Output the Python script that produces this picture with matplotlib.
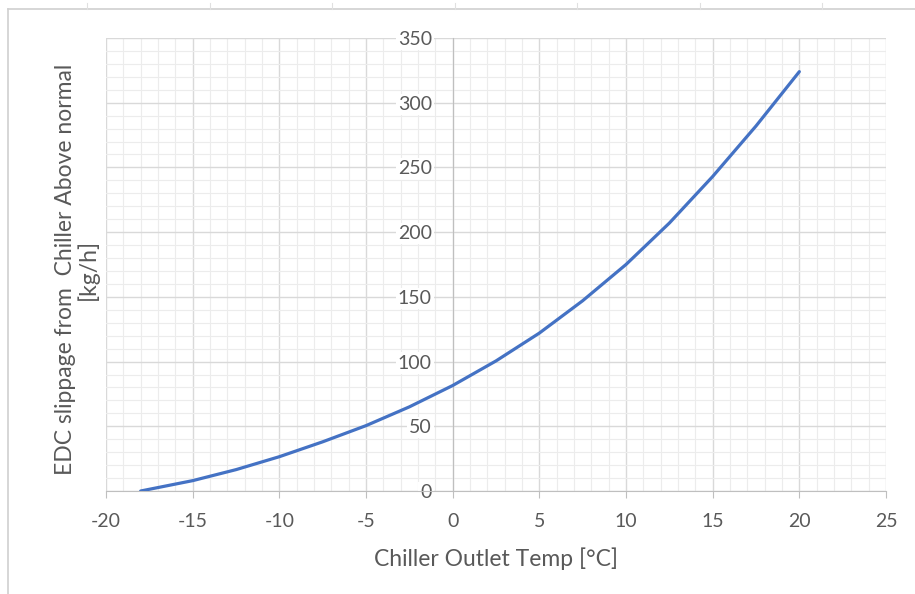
import numpy as np
import matplotlib.pyplot as plt
from matplotlib.lines import Line2D
from matplotlib.ticker import MultipleLocator

# Values
temp = [-18, -15, -12.5, -10, -7.5, -5, -2.5, 0, 2.5, 5, 7.5, 10, 12.5, 15, 17.5, 20]
slippage = [0, 8, 16.5, 26.5, 38, 50.5, 65, 81.5, 100.5, 122, 147, 175, 207, 243, 282, 324]

x_ticks = [-20, -15, -10, -5, 0, 5, 10, 15, 20, 25]
y_ticks = [0, 50, 100, 150, 200, 250, 300, 350]

plt.rcParams['font.family'] = ['Lato', 'DejaVu Sans']
plt.rcParams['axes.unicode_minus'] = False
text_col = '#595959'

fig = plt.figure(figsize=(9.15, 5.94), dpi=100)
ax = fig.add_axes([106 / 915, 1 - 491 / 594, 780 / 915, 453 / 594])

ax.plot(temp, slippage, color='#4472C4', lw=2.3, solid_capstyle='round',
        solid_joinstyle='round', zorder=4)

ax.set_xlim(-20, 25)
ax.set_ylim(0, 350)
ax.set_xticks(x_ticks)
ax.set_yticks(y_ticks)
ax.xaxis.set_minor_locator(MultipleLocator(1))
ax.yaxis.set_minor_locator(MultipleLocator(10))

ax.grid(which='major', color='#d9d9d9', lw=1.0, zorder=0)
ax.grid(which='minor', color='#ececec', lw=0.8, zorder=0)
ax.set_axisbelow(True)

for s in ['top', 'right']:
    ax.spines[s].set_visible(False)
ax.spines['left'].set_position(('data', 0))
ax.spines['left'].set_color('#bfbfbf')
ax.spines['bottom'].set_color('#bfbfbf')
ax.spines['left'].set_zorder(1)
ax.spines['bottom'].set_zorder(1)

ax.tick_params(which='minor', length=0)
ax.tick_params(axis='x', which='major', direction='out', length=5, color='#bfbfbf',
               labelsize=14, labelcolor=text_col, pad=11)
ax.tick_params(axis='y', which='major', direction='out', length=0, color='#bfbfbf',
               labelsize=14, labelcolor=text_col, pad=15)
for lab in ax.get_yticklabels():
    lab.set_bbox(dict(facecolor='white', edgecolor='none', pad=1.5))

ax.set_xlabel('Chiller Outlet Temp [°C]', fontsize=16.5, color=text_col, labelpad=12)
fig.text(77 / 915, 1 - 269 / 594, 'EDC slippage from  Chiller Above normal\n[kg/h]',
         rotation=90, ha='center', va='center', fontsize=16.5, color=text_col,
         multialignment='center', linespacing=1.05)

# faint sheet border around the chart
fig.add_artist(Line2D([8 / 915, 1], [1 - 9 / 594] * 2, color='#d0d0d0', lw=1.2))
fig.add_artist(Line2D([8 / 915] * 2, [0, 1 - 9 / 594], color='#d0d0d0', lw=1.2))
for px in [87, 210, 332, 455, 577, 700, 822]:
    fig.add_artist(Line2D([px / 915] * 2, [1 - 9 / 594, 1 - 3 / 594], color='#e0e0e0', lw=0.8))

fig.savefig('out.png', dpi=100)
